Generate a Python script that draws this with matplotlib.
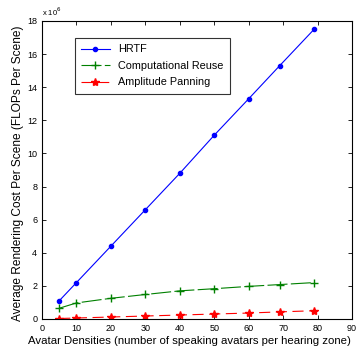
import matplotlib
matplotlib.use("Agg")
import matplotlib.pyplot as plt

# avatar densities (x) and cost per scene (in units of 1e6 FLOPs)
densities = [5, 10, 20, 30, 40, 50, 60, 69, 79]
hrtf = [1.1, 2.2, 4.4, 6.6, 8.8, 11.1, 13.3, 15.3, 17.5]
comp_reuse = [0.65, 0.97, 1.25, 1.48, 1.70, 1.83, 1.97, 2.08, 2.20]
amp_panning = [0.03, 0.06, 0.12, 0.18, 0.24, 0.30, 0.36, 0.43, 0.50]

plt.rcParams['font.family'] = ['Liberation Sans', 'DejaVu Sans']

fig = plt.figure(figsize=(3.6, 3.47), dpi=100)
ax = fig.add_axes([42 / 360, 1 - 319 / 347, 310 / 360, 298 / 347])

ax.plot(densities, [v * 1e6 for v in hrtf], color="blue", marker="o", markersize=3,
        linewidth=0.8, label="HRTF")
ax.plot(densities, [v * 1e6 for v in comp_reuse], color="green", marker="+", markersize=6,
        linewidth=0.8, dashes=(18, 3), label="Computational Reuse")
ax.plot(densities, [v * 1e6 for v in amp_panning], color="red", marker="*", markersize=6,
        linewidth=0.8, dashes=(10, 5), label="Amplitude Panning")

ax.set_xlim(0, 90)
ax.set_ylim(0, 18e6)
ax.set_xticks(range(0, 91, 10))
ax.set_yticks([i * 1e6 for i in range(0, 19, 2)])
ax.set_yticklabels([str(i) for i in range(0, 19, 2)])
ax.tick_params(direction="in", top=True, right=True, labelsize=6.5, length=3, width=0.6)
for s in ax.spines.values():
    s.set_linewidth(0.8)

ax.text(0, 1.01, r"x 10$^{6}$", transform=ax.transAxes, fontsize=5.5, va="bottom")

ax.set_xlabel("Avatar Densities (number of speaking avatars per hearing zone)", fontsize=8.2)
ax.xaxis.set_label_coords(0.477, -0.056, transform=ax.transAxes)
ax.set_ylabel("Average Rendering Cost Per Scene (FLOPs Per Scene)", fontsize=8.6)
ax.yaxis.set_label_coords(-0.058, 0.49, transform=ax.transAxes)

leg = ax.legend(loc="upper left", bbox_to_anchor=(0.106, 0.943), fontsize=7.8, frameon=True,
                fancybox=False, edgecolor="black", handlelength=2.6, borderpad=0.6,
                labelspacing=0.6, borderaxespad=0)
leg.get_frame().set_linewidth(0.8)

fig.savefig("out.png", dpi=100)
